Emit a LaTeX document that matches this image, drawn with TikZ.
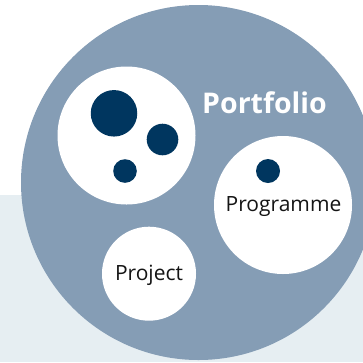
\documentclass[tikz,border=0pt]{standalone}
\usepackage{fontspec}
\setmainfont{Open Sans}
\definecolor{portgray}{HTML}{859DB5}
\definecolor{navy}{HTML}{00365F}
\definecolor{lightbg}{HTML}{E6EEF2}
\definecolor{txt}{HTML}{151515}
\begin{document}
\begin{tikzpicture}[x=1pt,y=-1pt,
  bubble/.style={circle,fill=white,inner sep=0pt,minimum size=#1},
  dot/.style={circle,fill=navy,inner sep=0pt,minimum size=#1},
  label/.style={text=txt,font=\fontsize{21}{25}\selectfont,anchor=base,inner sep=0pt}]
\useasboundingbox (0,0) rectangle (363,362);
\clip (0,0) rectangle (363,362);
\fill[lightbg] (0,194.5) rectangle (363,362);
\node[circle,fill=portgray,inner sep=0pt,minimum size=355pt] (portfolio) at (198.5,182.5) {};
\node[bubble=138pt] (group) at (126.5,135.5) {};
\node[dot=46.5pt] (d1) at (114,113.3) {};
\node[dot=31.6pt] (d2) at (162.5,139.5) {};
\node[dot=23.6pt] (d3) at (125,171) {};
\node[bubble=138pt] (programme) at (283,205) {};
\node[dot=24pt] (d4) at (268,171) {};
\node[bubble=94pt] (project) at (149,273.7) {};
\node[text=white,font=\bfseries\fontsize{28.5}{32}\selectfont,anchor=base,inner sep=0pt] (ptext) at (264.5,113) {Portfolio};
\node[label] (prtext) at (283.5,211.7) {Programme};
\node[label] (pjtext) at (149,280.7) {Project};
\end{tikzpicture}
\end{document}
